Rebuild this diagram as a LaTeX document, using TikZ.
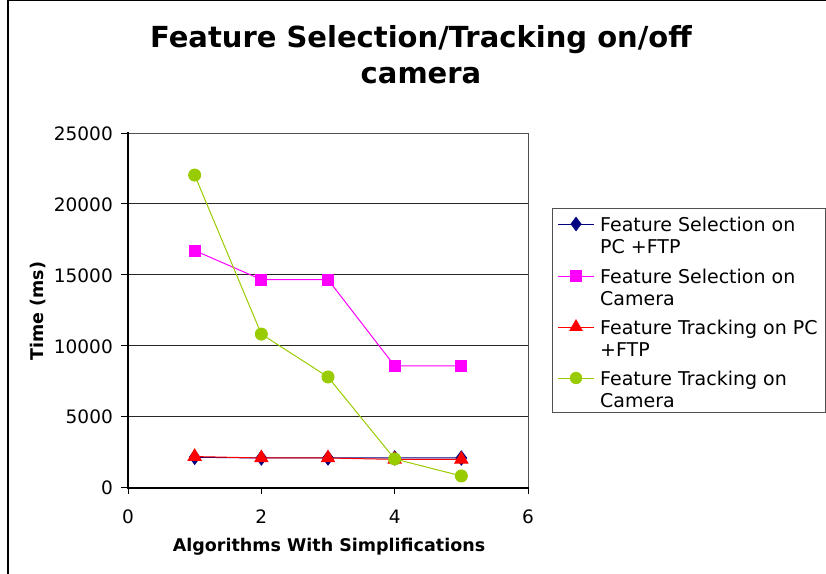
\documentclass[tikz,border=0pt]{standalone}
\usepackage{fontspec}
\setmainfont{DejaVu Sans}
\usetikzlibrary{plotmarks}
\definecolor{selpc}{RGB}{0,0,128}
\definecolor{selcam}{RGB}{255,0,255}
\definecolor{trkpc}{RGB}{255,0,0}
\definecolor{trkcam}{RGB}{153,204,0}
\definecolor{gridgray}{RGB}{80,80,80}
\tikzset{
  ticklabel/.style={font=\fontsize{18.5}{20}\selectfont, inner sep=0pt},
  legtext/.style={font=\fontsize{19}{22}\selectfont, anchor=west, align=left, inner sep=0pt},
  axistitle/.style={font=\bfseries\fontsize{17.5}{20}\selectfont, inner sep=0pt},
  series/.style={line width=1pt},
  gridline/.style={gridgray, line width=1pt},
}
\begin{document}
\begin{tikzpicture}[x=1pt, y=-1pt]
  \useasboundingbox (0,0) rectangle (826,573);
  % outer chart frame
  \draw[line width=1.2pt] (8,600) -- (8,0.8) -- (840,0.8);

  % title
  \node[font=\bfseries\fontsize{29}{36}\selectfont, align=center, inner sep=0pt] (title) at (421,55)
    {Feature Selection/Tracking on/off\\camera};

  % plot area frame and grid
  \draw[gridline] (128,133) -- (528,133) -- (528,487);
  \foreach \v/\yy in {5000/416.2, 10000/345.4, 15000/274.6, 20000/203.8} {
    \draw[gridline, black!85] (128,\yy) -- (528,\yy);
  }
  \draw[line width=2pt] (128,132) -- (128,488) -- (528,488);

  % y ticks and labels
  \foreach \v/\yy in {0/487, 5000/416.2, 10000/345.4, 15000/274.6, 20000/203.8, 25000/133} {
    \draw[line width=1pt] (121,\yy) -- (128,\yy);
    \node[ticklabel, anchor=east] (yl\v) at (113,\yy+1) {\v};
  }
  % x ticks and labels
  \foreach \k/\xx in {0/128, 2/261.3, 4/394.7, 6/528} {
    \draw[line width=1pt] (\xx,487) -- (\xx,494);
    \node[ticklabel] (xl\k) at (\xx,517) {\k};
  }

  % axis titles
  \node[axistitle, rotate=90] (ytitle) at (38,311) {Time (ms)};
  \node[axistitle] (xtitle) at (329,547) {Algorithms With Simplifications};

  % data series
  \begin{scope}[shift={(128,487)}, x=66.667pt, y=0.01416pt]
    \draw[series, selcam, mark=square*, mark size=5.5pt, mark options={fill=selcam}]
      plot coordinates {(1,16700) (2,14650) (3,14650) (4,8550) (5,8550)};
    \draw[series, selpc, mark=diamond*, mark size=7pt, mark options={fill=selpc}]
      plot coordinates {(1,2100) (2,2050) (3,2050) (4,2050) (5,2050)};
    \draw[series, trkpc, mark=triangle*, mark size=7.5pt, mark options={fill=trkpc}]
      plot coordinates {(1,2150) (2,2050) (3,2050) (4,1950) (5,1950)};
    \draw[series, trkcam, mark=*, mark size=6pt, mark options={fill=trkcam}]
      plot coordinates {(1,22030) (2,10800) (3,7770) (4,1980) (5,780)};
  \end{scope}

  % legend
  \draw[gridline, line width=1pt] (552,208) rectangle (825.5,412);
  \foreach \i/\yy/\col/\mk/\ms/\txt in {
      1/235/selpc/diamond*/7pt/{Feature Selection on\\PC +FTP},
      2/287/selcam/square*/5.5pt/{Feature Selection on\\Camera},
      3/338/trkpc/triangle*/7.5pt/{Feature Tracking on PC\\+FTP},
      4/389/trkcam/*/6pt/{Feature Tracking on\\Camera}} {
    \draw[series, \col] (558,\yy-11) -- (594,\yy-11);
    \path plot[mark=\mk, mark size=\ms, mark options={\col, fill=\col}] coordinates {(576,\yy-11)};
    \node[legtext] (leg\i) at (600,\yy) {\txt};
  }
\end{tikzpicture}
\end{document}
